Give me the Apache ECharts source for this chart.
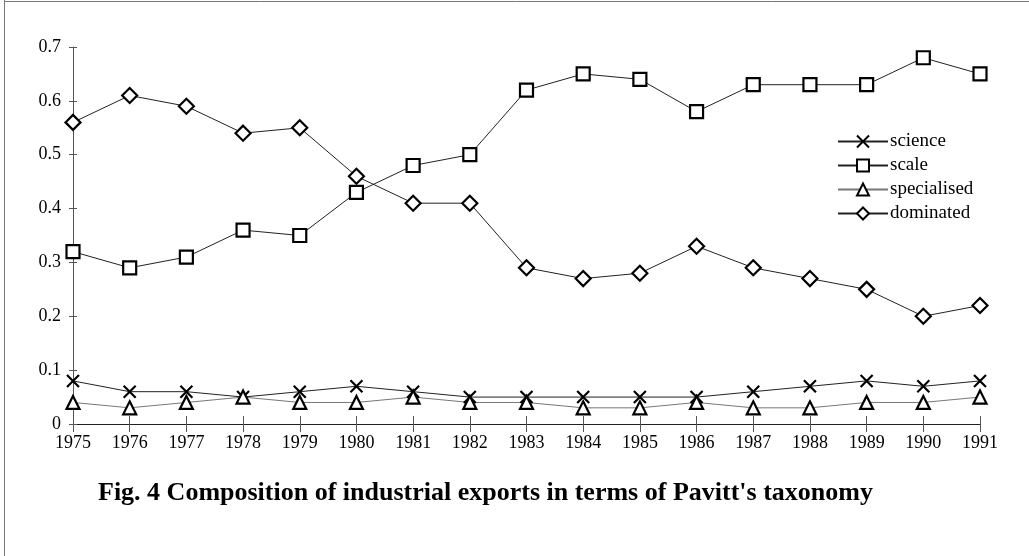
<!DOCTYPE html>
<html>
<head>
<meta charset="utf-8">
<script src="https://cdn.jsdelivr.net/npm/echarts@6/dist/echarts.min.js"></script>
<style>
html, body { margin: 0; padding: 0; background: #fff; }
#chart { width: 1029px; height: 556px; }
</style>
</head>
<body>
<div id="chart"></div>
<script>
const years = ['1975', '1976', '1977', '1978', '1979', '1980', '1981', '1982', '1983',
  '1984', '1985', '1986', '1987', '1988', '1989', '1990', '1991']
const science = [0.08, 0.06, 0.06, 0.05, 0.06, 0.07, 0.06, 0.05, 0.05, 0.05, 0.05, 0.05, 0.06, 0.07, 0.08, 0.07, 0.08]
const scale = [0.32, 0.29, 0.31, 0.36, 0.35, 0.43, 0.48, 0.50, 0.62, 0.65, 0.64, 0.58, 0.63, 0.63, 0.63, 0.68, 0.65]
const specialised = [0.04, 0.03, 0.04, 0.05, 0.04, 0.04, 0.05, 0.04, 0.04, 0.03, 0.03, 0.04, 0.03, 0.03, 0.04, 0.04, 0.05]
const dominated = [0.56, 0.61, 0.59, 0.54, 0.55, 0.46, 0.41, 0.41, 0.29, 0.27, 0.28, 0.33, 0.29, 0.27, 0.25, 0.20, 0.22]

const font = '"Liberation Serif", "Times New Roman", serif'
const crossPath = 'path://M0,0L10,10M10,0L0,10'

function makeSeries(name, data, symbol, size, lineColor) {
  return {
    name: name,
    type: 'line',
    data: data,
    symbol: symbol,
    symbolSize: size,
    showAllSymbol: true,
    lineStyle: { color: lineColor, width: 1 },
    itemStyle: { color: '#fff', borderColor: '#000', borderWidth: 2.2 },
    emphasis: { disabled: true },
    animation: false
  }
}

let myChart = echarts.init(document.getElementById('chart'))
let options = {
  backgroundColor: '#fff',
  title: {
    text: "Fig. 4 Composition of industrial exports in terms of Pavitt's taxonomy",
    left: 93,
    top: 475,
    textStyle: { fontFamily: font, fontSize: 26, fontWeight: 'bold', color: '#000' }
  },
  legend: {
    orient: 'vertical',
    left: 832,
    top: 127,
    itemGap: 5,
    itemWidth: 50,
    itemHeight: 15,
    textStyle: { fontFamily: font, fontSize: 19, lineHeight: 19, color: '#000', padding: [0, 0, 0, -3] },
    data: ['science', 'scale', 'specialised', 'dominated']
  },
  grid: { left: 73, right: 49, top: 47, bottom: 132, containLabel: false },
  xAxis: [
    {
      type: 'category',
      data: years,
      boundaryGap: false,
      axisLine: { lineStyle: { color: '#222', width: 1 } },
      axisTick: { show: true, length: 8, lineStyle: { color: '#555' } },
      axisLabel: { fontFamily: font, fontSize: 18, color: '#000', margin: 10, interval: 0 },
      splitLine: { show: false }
    },
    {
      type: 'category',
      data: years,
      boundaryGap: false,
      position: 'bottom',
      axisLine: { show: false },
      axisTick: { show: true, inside: true, length: 8, lineStyle: { color: '#555' } },
      axisLabel: { show: false },
      splitLine: { show: false }
    }
  ],
  yAxis: [
    {
      type: 'value',
      min: 0,
      max: 0.7,
      interval: 0.1,
      axisLine: { show: true, lineStyle: { color: '#555', width: 1 } },
      axisTick: { show: true, length: 4, lineStyle: { color: '#555' } },
      axisLabel: { fontFamily: font, fontSize: 18, color: '#000', margin: 12 },
      splitLine: { show: false }
    },
    {
      type: 'value',
      min: 0,
      max: 0.7,
      interval: 0.1,
      position: 'left',
      axisLine: { show: false },
      axisTick: { show: true, inside: true, length: 4, lineStyle: { color: '#555' } },
      axisLabel: { show: false },
      splitLine: { show: false }
    }
  ],
  graphic: [
    { type: 'line', shape: { x1: 4.5, y1: 0, x2: 4.5, y2: 556 }, style: { stroke: '#777', lineWidth: 1 } },
    { type: 'line', shape: { x1: 4, y1: 1.5, x2: 1029, y2: 1.5 }, style: { stroke: '#777', lineWidth: 1 } }
  ],
  series: [
    makeSeries('science', science, crossPath, 12, '#222'),
    makeSeries('scale', scale, 'rect', 13, '#222'),
    makeSeries('specialised', specialised, 'triangle', 13, '#777'),
    makeSeries('dominated', dominated, 'diamond', 15, '#222')
  ]
}
myChart.setOption(options)
</script>
</body>
</html>
